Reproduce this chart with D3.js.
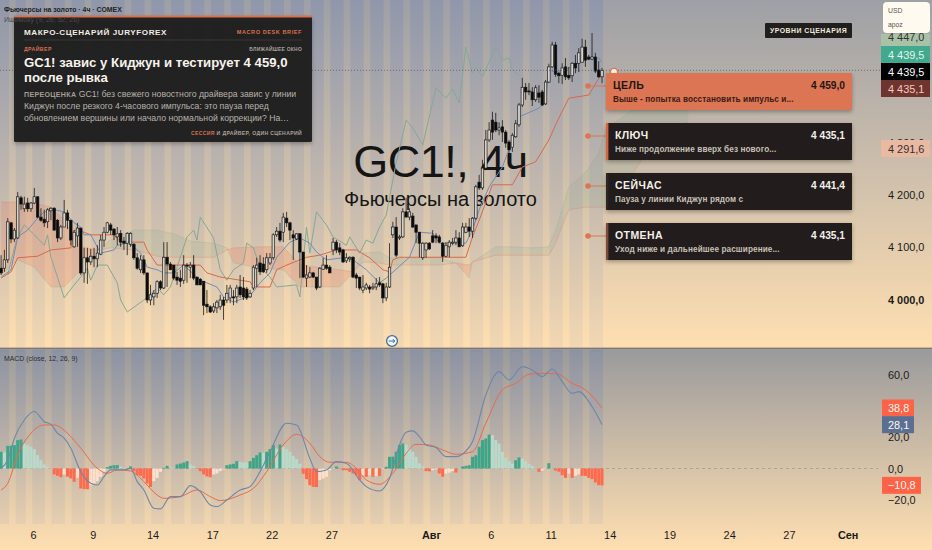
<!DOCTYPE html>
<html><head><meta charset="utf-8">
<script src="https://cdn.jsdelivr.net/npm/d3@7"></script>
<style>
html,body{margin:0;padding:0;background:#ffdfb1;overflow:hidden}
svg{display:block}
text{font-family:"Liberation Sans",Arial,sans-serif}
</style></head><body>
<script>
// ---------- price data (4h bars) ----------
const opens=[4060,4060,4076,4147,4116,4118,4195,4174,4185,4174,4185,4197,4158,4154,4149,4170,4175,4152,4118,4139,4166,4152,4101,4122,4137,4051,4080,4072,4083,4078,4087,4114,4129,4143,4135,4120,4127,4112,4108,4106,4106,4080,4057,4076,4051,3999,4005,4012,4034,4022,4081,4068,4066,4043,4041,4037,4066,4062,4066,4043,4039,4035,3991,3986,3978,3984,3986,3999,3999,4003,4005,4005,4024,4022,4020,4005,4022,4060,4070,4068,4057,4070,4080,4124,4131,4129,4156,4147,4124,4116,4126,4091,4041,4043,4051,4043,4024,4058,4066,4062,4095,4110,4099,4095,4074,4078,4081,4047,4043,4018,4022,4024,4022,4024,4032,4030,4003,4024,4124,4139,4118,4120,4168,4158,4160,4143,4129,4080,4095,4108,4122,4122,4120,4108,4083,4101,4108,4110,4118,4103,4129,4139,4131,4156,4225,4214,4252,4306,4344,4340,4325,4331,4321,4302,4292,4312,4335,4373,4407,4400,4398,4383,4396,4398,4375,4417,4446,4488,4434,4430,4446,4430,4429,4453,4453,4455,4484,4465,4461,4465,4440,4427];
const highs=[4085,4095,4156,4149,4137,4206,4199,4197,4195,4187,4214,4197,4175,4172,4175,4177,4177,4154,4143,4191,4172,4152,4133,4147,4137,4099,4099,4097,4099,4104,4124,4139,4149,4147,4137,4139,4133,4120,4129,4129,4108,4089,4085,4085,4051,4028,4018,4037,4037,4110,4110,4072,4066,4053,4057,4085,4070,4072,4085,4043,4041,4035,4018,3989,3993,3999,4009,4005,4028,4028,4018,4028,4047,4043,4024,4018,4066,4080,4085,4081,4089,4089,4127,4139,4147,4166,4168,4149,4133,4127,4127,4091,4066,4062,4053,4043,4062,4080,4085,4066,4118,4114,4108,4097,4089,4083,4083,4051,4043,4047,4032,4028,4032,4041,4043,4032,4032,4108,4149,4158,4124,4175,4195,4175,4166,4143,4129,4110,4110,4110,4133,4127,4124,4110,4110,4114,4118,4133,4129,4147,4147,4156,4158,4220,4239,4268,4325,4340,4360,4358,4340,4344,4325,4306,4319,4344,4377,4425,4415,4415,4407,4411,4411,4402,4421,4452,4494,4494,4436,4453,4463,4446,4455,4469,4482,4500,4498,4469,4511,4473,4457,4444];
const lows=[4047,4053,4070,4108,4110,4116,4172,4168,4168,4168,4183,4156,4149,4139,4137,4152,4133,4110,4114,4139,4135,4104,4099,4101,4047,4032,4030,4066,4062,4062,4085,4101,4127,4124,4114,4104,4101,4095,4085,4101,4076,4057,4051,4047,3993,3989,3989,4003,4018,4020,4024,4057,4037,4028,4024,4030,4032,4041,4037,4028,4028,3970,3974,3974,3974,3974,3980,3961,3993,3993,3989,3993,4003,3999,3999,4003,4018,4024,4047,4051,4051,4066,4076,4120,4110,4110,4139,4114,4076,4114,4041,4041,4024,4041,4041,4018,4022,4057,4057,4051,4085,4089,4085,4070,4070,4072,4041,4022,4018,4012,4018,4012,4018,4018,4024,3993,3997,4022,4118,4081,4114,4118,4158,4152,4137,4108,4081,4076,4080,4095,4108,4108,4108,4072,4081,4081,4104,4104,4101,4101,4127,4120,4118,4152,4210,4210,4248,4302,4306,4321,4315,4302,4291,4277,4283,4310,4331,4369,4383,4392,4371,4379,4377,4371,4373,4415,4444,4427,4415,4413,4421,4421,4417,4434,4436,4455,4446,4459,4459,4434,4425,4415];
const closes=[4051,4076,4149,4116,4133,4197,4183,4183,4174,4185,4197,4158,4152,4147,4172,4175,4133,4118,4139,4166,4152,4114,4129,4137,4051,4080,4072,4083,4078,4089,4114,4129,4147,4133,4124,4126,4110,4108,4127,4127,4080,4060,4076,4051,3999,4009,4012,4034,4022,4081,4068,4057,4041,4037,4035,4066,4064,4066,4041,4028,4028,3989,3986,3976,3986,3995,3999,3989,4012,4022,4003,4022,4009,4005,4003,4012,4062,4066,4053,4053,4080,4080,4124,4131,4114,4158,4147,4133,4118,4126,4091,4043,4047,4051,4043,4022,4060,4066,4060,4051,4110,4095,4091,4072,4080,4081,4043,4041,4022,4024,4028,4020,4024,4030,4028,4003,4024,4062,4139,4085,4120,4168,4158,4168,4139,4129,4108,4108,4108,4097,4110,4118,4110,4083,4104,4110,4110,4118,4101,4139,4139,4131,4156,4216,4214,4252,4306,4325,4321,4325,4329,4321,4300,4287,4315,4337,4373,4407,4398,4398,4383,4406,4388,4373,4417,4446,4488,4432,4429,4444,4427,4425,4453,4444,4473,4484,4459,4461,4465,4438,4427,4439.5];

// ---------- Ishimoku ----------
const tenkanIdx=[0,3,5,8,11,13,16,19,22,24,25,27,30,34,35,38,40,42,44,47,49,52,55,60,65,67,70,75,78,81,83,87,90,93,95,98,103,106,110,114,116,123,126,130,132,140,142,144,147,151,154,156,162,164,165,167,172,175,180,181];
const tenkanVal=[4043,4057,4120,4133,4156,4168,4172,4168,4147,4139,4124,4124,4089,4095,4104,4108,4101,4089,4062,4057,4051,4051,4066,4037,4024,4005,3995,4007,4032,4051,4081,4110,4118,4108,4091,4076,4080,4076,4057,4032,4041,4081,4129,4127,4108,4108,4133,4172,4216,4254,4306,4350,4367,4379,4440,4436,4446,4459,4463,4455];
const kijunIdx=[0,3,5,11,15,21,22,25,27,34,36,43,44,47,60,62,66,75,76,81,83,86,90,92,96,101,107,111,115,117,118,120,140,142,144,148,154,157,161,165,168,171,177,181];
const kijunVal=[4041,4053,4080,4083,4095,4099,4133,4129,4124,4124,4110,4110,4095,4066,4066,4051,4043,4034,4024,4024,4057,4066,4076,4081,4085,4095,4095,4080,4057,4053,4076,4081,4081,4120,4152,4220,4220,4254,4264,4306,4348,4386,4392,4434];
const chikouIdx=[2,4,5,7,10,13,14,15,16,19,22,24,26,27,29,32,35,36,38,43,47,49,51,53,56,58,59,60,64,66,68,70,73,74,76,78,81,83,86,89,90,92,93,95,98,100,104,105,108,110,112,114,116,119,122,124,127,131,134,136,138,140,142,143,145,149,151,153,154,156];
const chikouVal=[4047,4099,4120,4143,4124,4104,4124,4081,4062,4003,4028,4043,4060,4037,4066,4066,4032,3999,3976,3999,4022,4009,4024,4062,4120,4133,4114,4158,4118,4057,4037,4057,4070,4108,4099,4062,4043,4024,4026,4028,4005,4139,4089,4168,4143,4120,4104,4120,4089,4114,4108,4139,4162,4262,4344,4329,4296,4406,4386,4404,4377,4484,4434,4446,4427,4484,4459,4463,4440,4430];
const cloudIdx=[0,5,10,15,19,24,29,33,40,47,52,57,64,68,70,78,85,90,102,106,109,114,117,132,137,141,142,149,154,160,165,167,171,176,180,182,190,198,207];
const spanA=[4047,4076,4062,4024,4024,4057,4095,4114,4133,4133,4126,4112,4108,4099,4070,4060,4057,4024,4024,4051,4089,4091,4080,4080,4070,4041,4072,4101,4101,4099,4101,4133,4216,4243,4281,4325,4363,4373,4383];
const spanB=[4187,4187,4185,4177,4152,4101,4095,4099,4095,4083,4081,4081,4081,4095,4099,4101,4101,4066,4057,4053,4072,4070,4066,4066,4070,4066,4072,4085,4085,4085,4085,4108,4172,4177,4177,4177,4239,4315,4340];

// ---------- MACD ----------
const macdIdx=[0,2,4,7,10,13,15,17,19,21,24,27,29,31,33,37,39,41,43,46,48,51,54,57,60,63,65,68,72,75,78,81,86,89,93,95,98,101,104,108,110,114,117,120,122,124,126,128,131,134,137,140,142,146,150,153,157,160,163,166,169,172,174,178,181];
const macdVal=[0.1,5.5,19.4,31.1,36.5,30,28.3,22.6,19.4,13,-2,-9.5,-10.6,-5.2,-0.9,-0.9,0.1,-8.4,-13.8,-25.5,-25.9,-18,-18,-11,-14.8,-23.4,-24.4,-20.2,-13.8,-11.6,-2,10.8,29,27.9,6.5,-2,-0.9,4.4,3.3,-7.3,-11.6,-14.4,-6.3,15.1,23.2,24.1,20.4,15.1,13.4,7.6,7.6,11.2,17.2,47.1,62.1,56.8,65.3,63.2,58.9,63.8,55.7,48.2,49.3,39.7,28.1];
const signalIdx=[0,2,5,9,13,16,20,24,29,32,35,39,43,47,49,54,59,63,66,72,76,80,85,89,93,96,99,104,107,110,114,118,122,125,129,133,137,142,146,151,155,159,163,167,172,176,181];
const signalVal=[-13.8,-9.5,8.7,22.6,27.9,27.9,22.6,13,0.1,-3.1,-0.9,-1.6,-8.4,-17,-19.1,-18,-13.8,-18,-20.6,-17,-12.7,-2,15.1,21.9,16.2,7.6,4,4,0.1,-7.3,-10.1,-3.1,9.7,15.5,15.1,11.9,9.1,10.8,29,50.4,54.6,60.4,61,61,54.6,50.4,38.8];
const histVal=[10.7,10.3,14.5,14.6,15,18.2,18.6,16,15,13.9,12.4,8.5,5.3,2.6,1.3,0.2,-3.8,-4.7,-5.6,-3.8,-5.3,-6.4,-8.5,-6,-12.8,-13.2,-13.3,-10.7,-9.6,-8.1,-5.3,-2.1,0.9,1.7,2.1,2.2,1.3,0.4,0.1,1.3,-1.7,-4.3,-4.7,-6.4,-9.6,-11.8,-8.1,-6,-2.1,0.4,1.7,0.6,0.4,2.6,3.2,3.8,4.7,2.6,1.7,-0.2,-1.7,-3.8,-5.1,-5.6,-3.8,-3.2,-1.7,-0.6,2.1,2.6,3,4.7,4.3,3.8,3.7,4.7,6.8,8.5,10.3,10.2,10.7,12.4,15,12.8,15.4,13.9,12.4,10.7,8.1,6,3,-3.4,-6.8,-10.7,-11.8,-11.9,-7.5,-6.4,-5.3,-1.1,-0.2,1.3,-0.2,-1.1,-1.1,-2.1,-3.2,-4.3,-7.5,-4.3,-5.3,-4.3,-5.3,-4.7,-4.8,-0.4,1.1,7.5,7.6,10.7,15,16,15.4,12.8,10.7,7.5,3.2,1.1,-1.7,-1.8,-1.1,-0.6,-3.2,-5.3,-3.2,-2.6,-1.7,-2.6,-0.2,1.3,1.7,2.1,7.5,8.5,13.9,18.2,19.2,21.8,21.4,18.2,16,10.7,6.8,4.7,3.2,5.3,7.1,6.4,4.7,3,1.7,0.4,-2.1,-1.3,-0.2,3.4,0.2,-1.3,-2.1,-4.3,-6,-3.2,-6,-4.7,-3.8,-4.7,-4.8,-6,-6.8,-9,-10.7,-10.8];

// ---------- axes ----------
const timeIdx=[9.6,27.6,45.6,63.6,81.5,99.5,129.5,147.5,165.5,183.3,201.3,219.3,237.3,255];
const timeLabels=["6","9","14","17","22","27","Авг","6","11","14","19","24","27","Сен"];
const timeBold=["Авг","Сен"];
const priceTicks=[4300,4200,4100,4000];
const macdTicks=[60,20,0,-20];
const sessionIdx=[2.4,7.4,13.2,19.2,25.2,31.2,37.2,43.2,49.2,55.2,61.2,67.2,73.2,79.2,85.2,91.2,97.2,103.2,109.2,115.2,121.2,127.2,133.2,139.2,145.2,151.2,157.2,163.2,169.2,175.2];
const lastBar=181;

// ---------- text ----------
const headerLines=["Фьючерсы на золото · 4ч · COMEX","Ишимоку (9, 26, 52, 26)"];
const headline=["GC1! завис у Киджун и тестирует 4 459,0","после рывка"];
const bodyLines=[["ПЕРЕОЦЕНКА"," GC1! без свежего новостного драйвера завис у линии"],["","Киджун после резкого 4-часового импульса: это пауза перед"],["","обновлением вершины или начало нормальной коррекции? На…"]];
const cardNames=["ЦЕЛЬ","КЛЮЧ","СЕЙЧАС","ОТМЕНА"];
const cardValues=[4459.0,4435.1,4441.4,4435.1];
const cardNotes=["Выше - попытка восстановить импульс и...","Ниже продолжение вверх без нового...","Пауза у линии Киджун рядом с","Уход ниже и дальнейшее расширение..."];
const cardAccents=["#dc7553","#d9623f","#2b2724","#7a4a40"];
const priceLabels=[4447.0,4439.5,4439.5,4435.1,4291.6];
const priceLabelFill=["#a9c2a5","#41a98d","#000000","#6e3530","#e9b9a1"];
const priceLabelText=["#333333","#e8f5ef","#ffffff","#f6c9bb","#333333"];
const macdLabels=[38.8,28.1,-10.8];
const macdLabelFill=["#ff6347","#5b6f93","#ff6347"];

// ---------- helpers ----------
const W=932,H=550,paneSplit=348.5,macdBottom=524,plotRight=883;
const fmt=v=>{const s=Math.abs(v).toFixed(1).replace(".",",");const [a,b]=s.split(",");
  const g=a.length>3?a.slice(0,a.length-3)+" "+a.slice(-3):a;return (v<0?"−":"")+g+","+b;};
const x=d3.scaleLinear().domain([0,lastBar]).range([1.1,602]);
const y=d3.scaleLinear().domain([4000,4439.5]).range([299.5,70.3]);
const ym=d3.scaleLinear().domain([-20,60]).range([499.7,374.9]);

const svg=d3.select("body").append("svg").attr("width",W).attr("height",H).attr("viewBox",[0,0,W,H]);
const defs=svg.append("defs");
function grad(id,stops){const g=defs.append("linearGradient").attr("id",id).attr("x1",0).attr("x2",0).attr("y1",0).attr("y2",1);
  stops.forEach(s=>g.append("stop").attr("offset",s[0]).attr("stop-color",s[1]).attr("stop-opacity",s[2]===undefined?1:s[2]));}
grad("bgMain",[[0,"#9ea0a6"],[1,"#ffdfb1"]]);
grad("bgMacd",[[0,"#9a9a9c"],[1,"#ffdfb1"]]);
grad("colOver",[[0,"#4f6fc0",0.18],[1,"#4f6fc0",0.07]]);
const sh=defs.append("filter").attr("id","shadow").attr("x","-10%").attr("y","-20%").attr("width","120%").attr("height","150%");
sh.append("feDropShadow").attr("dx",0).attr("dy",2).attr("stdDeviation",2.2).attr("flood-color","#000").attr("flood-opacity",0.3);
defs.append("clipPath").attr("id","mainClip").append("rect").attr("x",0).attr("y",0).attr("width",plotRight).attr("height",paneSplit);

// backgrounds
svg.append("rect").attr("width",W).attr("height",paneSplit).attr("fill","url(#bgMain)");
svg.append("rect").attr("y",paneSplit).attr("width",W).attr("height",H-paneSplit).attr("fill","url(#bgMacd)");

// session columns
const stripeW=x(2)-x(0);
const colSpans=sessionIdx.map((s,i)=>[i?x(sessionIdx[i-1])+stripeW:0,x(s)]);
colSpans.push([x(sessionIdx[sessionIdx.length-1])+stripeW,x(lastBar)+1]);
[[0,paneSplit-1],[paneSplit+1,macdBottom]].forEach(p=>{
  svg.append("g").selectAll("rect").data(colSpans).join("rect")
   .attr("x",d=>d[0]).attr("width",d=>d[1]-d[0]).attr("y",p[0]).attr("height",p[1]-p[0]).attr("fill","url(#colOver)");
});

// watermark
const wm=svg.append("g").attr("text-anchor","middle").attr("fill","#151515");
wm.append("text").attr("x",440.5).attr("y",176.5).attr("font-size",45).attr("letter-spacing",-.5).text("GC1!, 4ч");
wm.append("text").attr("x",440.5).attr("y",206).attr("font-size",20).text("Фьючерсы на золото");

// cloud
const main=svg.append("g").attr("clip-path","url(#mainClip)");
const cloud=cloudIdx.map((d,i)=>({i:d,a:spanA[i],b:spanB[i]}));
const paneTop=0,paneBot=paneSplit;
defs.append("clipPath").attr("id","clipGreen").append("path").attr("d",d3.area().x(d=>x(d.i)).y0(paneTop).y1(d=>y(d.b))(cloud));
defs.append("clipPath").attr("id","clipRed").append("path").attr("d",d3.area().x(d=>x(d.i)).y0(paneBot).y1(d=>y(d.b))(cloud));
const cloudArea=d3.area().x(d=>x(d.i)).y0(d=>y(d.a)).y1(d=>y(d.b));
main.append("path").attr("d",cloudArea(cloud)).attr("clip-path","url(#clipGreen)").attr("fill","#6a9a80").attr("opacity",0.12);
main.append("path").attr("d",cloudArea(cloud)).attr("clip-path","url(#clipRed)").attr("fill","#ef6f52").attr("opacity",0.2);
main.append("path").attr("d",d3.line().x(d=>x(d.i)).y(d=>y(d.a))(cloud)).attr("fill","none").attr("stroke","#6fa888").attr("stroke-opacity",.2);
main.append("path").attr("d",d3.line().x(d=>x(d.i)).y(d=>y(d.b))(cloud)).attr("fill","none").attr("stroke","#e0755a").attr("stroke-opacity",.25);

// ichimoku lines
function series(g,yS,idx,val,col,w,curve){
  g.append("path").attr("fill","none").attr("stroke",col).attr("stroke-width",w||1).attr("stroke-linejoin","round")
   .attr("d",d3.line().curve(curve||d3.curveLinear).x((d,i)=>x(idx[i])).y((d,i)=>yS(val[i]))(idx));
}
series(main,y,chikouIdx,chikouVal,"#84a897",1);
series(main,y,kijunIdx,kijunVal,"#d8694a",1);
series(main,y,tenkanIdx,tenkanVal,"#6e8db8",1);

// candles
const bars=closes.map((c,i)=>({i,o:opens[i],h:highs[i],l:lows[i],c}));
const cg=main.append("g");
cg.selectAll("line").data(bars).join("line")
  .attr("x1",d=>x(d.i)).attr("x2",d=>x(d.i)).attr("y1",d=>y(d.h)).attr("y2",d=>y(d.l))
  .attr("stroke","#1a1a1a").attr("stroke-width",.8);
cg.selectAll("rect").data(bars).join("rect")
  .attr("x",d=>x(d.i)-1.25).attr("width",2.5)
  .attr("y",d=>y(Math.max(d.o,d.c))).attr("height",d=>Math.max(.8,Math.abs(y(d.o)-y(d.c))))
  .attr("fill",d=>d.c>=d.o?"#d6d3cb":"#0a0a0a").attr("stroke","#141414").attr("stroke-width",.65);

// last price dotted line
svg.append("line").attr("x1",0).attr("x2",plotRight).attr("y1",y(4439.5)).attr("y2",y(4439.5))
  .attr("stroke","#555").attr("stroke-width",1).attr("stroke-dasharray","1 2").attr("opacity",.75);
svg.append("circle").attr("cx",614).attr("cy",72).attr("r",3.6).attr("fill","#fff3e6").attr("stroke","#dc7553").attr("stroke-width",1.4);

// panel
const pn=svg.append("g");
pn.append("rect").attr("x",14).attr("y",16).attr("width",298).attr("height",126).attr("rx",1.5).attr("fill","#1e1c1a").attr("fill-opacity",.95).attr("filter","url(#shadow)");
pn.append("rect").attr("x",14).attr("y",15.5).attr("width",298).attr("height",2).attr("fill","#d9704f");
function t(g,xp,yp,s,size,col,o){o=o||{};
  return g.append("text").attr("x",xp).attr("y",yp).attr("font-size",size).attr("fill",col)
   .attr("font-weight",o.w||"normal").attr("letter-spacing",o.ls||0).attr("text-anchor",o.a||"start").text(s);}
t(pn,24,34.5,"МАКРО-СЦЕНАРИЙ JURYFOREX",8.1,"#f1ece4",{w:"bold",ls:.58});
t(pn,302,34,"MACRO DESK BRIEF",5.5,"#d9704f",{w:"bold",ls:.6,a:"end"});
pn.append("line").attr("x1",24).attr("x2",302).attr("y1",40).attr("y2",40).attr("stroke","#3a3734");
t(pn,24,50.5,"ДРАЙВЕР",5.2,"#d9704f",{w:"bold",ls:.42});
t(pn,302,50.5,"БЛИЖАЙШЕЕ ОКНО",4.9,"#a9a39b",{w:"bold",ls:.28,a:"end"});
headline.forEach((s,i)=>t(pn,24,66.5+i*15.5,s,13.2,"#f7f3ec",{w:"bold"}));
bodyLines.forEach((l,i)=>{
  const e=t(pn,24,97+i*12,"",8.7,"#b8b2aa");
  e.append("tspan").attr("font-size",7.1).attr("font-weight","bold").attr("letter-spacing",.3).attr("fill","#a39d95").text(l[0]);
  e.append("tspan").text(l[1]);
});
const ft=t(pn,302,135,"",5.1,"#a9a39b",{w:"bold",ls:.36,a:"end"});
ft.append("tspan").attr("fill","#d9704f").text("СЕССИЯ");
ft.append("tspan").text(" И ДРАЙВЕР, ОДИН СЦЕНАРИЙ");

// header
const hd=svg.append("g");
t(hd,4,12,headerLines[0],6.9,"#222",{w:"bold"});
t(hd,4,22,headerLines[1],7,"#4a4a48");

// scenario box
const sb=svg.append("g");
sb.append("rect").attr("x",765).attr("y",23).attr("width",87).attr("height",15).attr("fill","#211f1d").attr("rx",1);
t(sb,808.5,33.3,"УРОВНИ СЦЕНАРИЯ",6.9,"#efe9df",{w:"bold",ls:.48,a:"middle"});

// cards
const cardTop=d3.scalePoint().domain(d3.range(4)).range([73,223]);
const cards=svg.append("g");
cardNames.forEach((name,i)=>{
  const yy=cardTop(i),g=cards.append("g"),hot=i===0;
  g.append("line").attr("x1",588).attr("x2",607).attr("y1",yy+13).attr("y2",yy+13).attr("stroke","#dc7553");
  g.append("circle").attr("cx",588).attr("cy",yy+13).attr("r",2.8).attr("fill","#dc7553");
  g.append("rect").attr("x",606).attr("y",yy).attr("width",246).attr("height",37).attr("fill",hot?"#dc7553":"#231f1d").attr("filter","url(#shadow)");
  g.append("rect").attr("x",606).attr("y",yy).attr("width",2.4).attr("height",37).attr("fill",cardAccents[i]);
  const c=hot?"#1c1714":"#f4efe8",d=hot?"#3b1c12":"#c7c0b6",tx=hot?613:615;
  t(g,tx,yy+16,name,10.5,c,{w:"bold",ls:.42});
  t(g,845,yy+15.5,fmt(cardValues[i]),10.2,c,{w:"bold",a:"end"});
  t(g,tx,yy+28.6,cardNotes[i],8.2,d,{w:"bold",ls:.1});
});

// MACD pane
const mp=svg.append("g");
mp.append("line").attr("x1",0).attr("x2",878).attr("y1",ym(0)).attr("y2",ym(0)).attr("stroke","#a8a49c").attr("stroke-dasharray","3 3");
const barW=x(1)-x(0);
mp.selectAll("rect").data(histVal).join("rect")
  .attr("x",(d,i)=>x(i)-barW/2+.15).attr("width",barW-.3)
  .attr("y",d=>Math.min(ym(d),ym(0))).attr("height",d=>Math.abs(ym(d)-ym(0)))
  .attr("fill",(d,i)=>{const p=i?histVal[i-1]:0;
    return d>=0?(d>=p?"#3fa588":"#b9d9cb"):(d<=p?"#ff6a4d":"#fde0cc");});
series(mp,ym,signalIdx,signalVal,"#e9694c",1,d3.curveMonotoneX);
series(mp,ym,macdIdx,macdVal,"#6d87a8",1.1,d3.curveMonotoneX);
t(mp,4,361,"MACD (close, 12, 26, 9)",6.9,"#2e2e2e");

// pane separator and icon
svg.append("rect").attr("x",0).attr("y",347.6).attr("width",W).attr("height",1.4).attr("fill","#7d7a76");
svg.append("circle").attr("cx",392).attr("cy",341).attr("r",5.4).attr("fill","#f4f6f8").attr("stroke","#3f6d96").attr("stroke-width",1.3);
svg.append("path").attr("d","M388.6 341h6.2m-2-2l2 2-2 2").attr("fill","none").attr("stroke","#3f6d96");

// axes
const styleAxis=(g)=>{g.select(".domain").remove();g.selectAll(".tick line").remove();
  g.selectAll("text").attr("font-family",'"Liberation Sans",Arial,sans-serif').attr("font-size",10.9).attr("fill","#1b1b1b");};
const pa=svg.append("g").attr("transform","translate(888,0)")
  .call(d3.axisRight(y).tickValues(priceTicks).tickFormat(fmt).tickSize(0).tickPadding(0)).call(styleAxis);
pa.selectAll("text").attr("font-weight",d=>d===4000?"bold":"normal");
svg.append("g").attr("transform","translate(888,0)")
  .call(d3.axisRight(ym).tickValues(macdTicks).tickFormat(fmt).tickSize(0).tickPadding(0)).call(styleAxis);
const ta=svg.append("g").attr("transform","translate(0,531)")
  .call(d3.axisBottom(x).tickValues(timeIdx).tickFormat((d,i)=>timeLabels[i]).tickSize(0).tickPadding(0)).call(styleAxis);
ta.selectAll("text").attr("font-weight",(d,i)=>timeBold.includes(timeLabels[i])?"bold":"normal");

// last price labels
const labelSlotTop=[34,46,63,80,140];
const labelSlotH=[13,17,17,17,17];
priceLabels.forEach((v,i)=>{
  svg.append("rect").attr("x",881).attr("y",labelSlotTop[i]).attr("width",49).attr("height",labelSlotH[i]).attr("fill",priceLabelFill[i]);
  t(svg,888,labelSlotTop[i]+(i===0?7:12.8),fmt(v),10.9,priceLabelText[i]);
});
const usd=svg.append("g");
usd.append("rect").attr("x",883).attr("y",2).attr("width",47).attr("height",31).attr("rx",4).attr("fill","#fffaf0");
t(usd,888,13,"USD",6.8,"#555");
t(usd,888,27,"apoz",6.8,"#555");
macdLabels.forEach((v,i)=>{
  const yy=ym(v),txt=fmt(v);
  svg.append("rect").attr("x",882).attr("y",yy-8.5).attr("width",i===2?39:32).attr("height",17).attr("fill",macdLabelFill[i]);
  t(svg,888,yy+3.9,txt,10.9,"#fff7ee");
});
</script>
</body></html>
